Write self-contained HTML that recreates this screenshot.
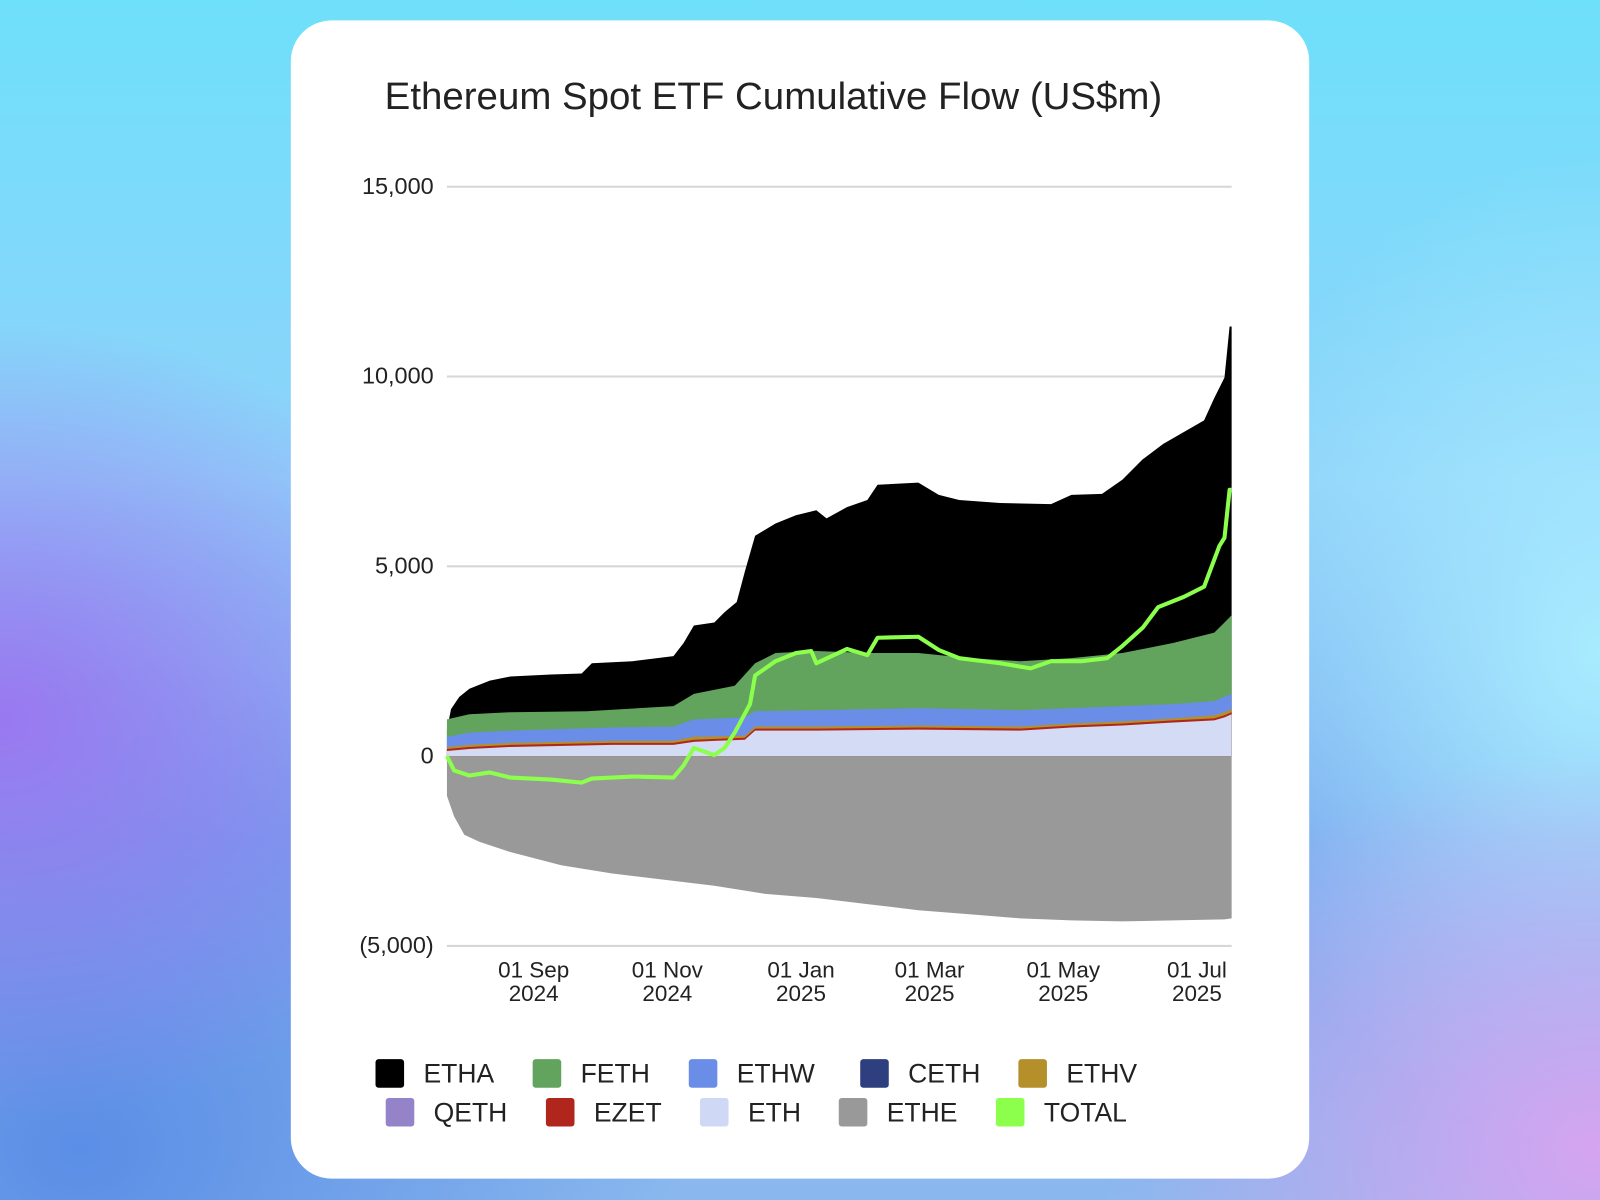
<!DOCTYPE html>
<html><head><meta charset="utf-8"><style>
html,body{margin:0;padding:0;width:1600px;height:1200px;overflow:hidden}
body{background:
radial-gradient(ellipse 500px 400px at 0px 720px,#9a78f0 0%,rgba(154,120,240,0) 100%),
radial-gradient(ellipse 600px 500px at 80px 1150px,#5b8ee6 0%,rgba(91,142,230,0) 100%),
radial-gradient(ellipse 500px 400px at 1600px 1150px,#d6a4f0 0%,rgba(214,164,240,0) 100%),
radial-gradient(ellipse 400px 500px at 1600px 650px,#a8ecff 0%,rgba(168,236,255,0) 100%),
linear-gradient(180deg,#6fe0fa 0%,#8fd2fa 40%,#7aa8ee 70%,#8ab8ee 100%);}
svg{position:absolute;left:0;top:0}
text{font-family:"Liberation Sans",sans-serif;fill:#222}
</style></head><body>
<svg width="1600" height="1200" viewBox="0 0 1568 1176" preserveAspectRatio="none">
<rect x="285" y="20" width="998" height="1135" rx="40" fill="#fff"/>
<text x="377" y="107" font-size="37" textLength="762" lengthAdjust="spacingAndGlyphs">Ethereum Spot ETF Cumulative Flow (US$m)</text>
<g stroke="#d6d6d6" stroke-width="2">
<line x1="438" x2="1207" y1="183" y2="183"/><line x1="438" x2="1207" y1="369" y2="369"/>
<line x1="438" x2="1207" y1="555" y2="555"/><line x1="438" x2="1207" y1="741" y2="741"/>
<line x1="438" x2="1207" y1="927" y2="927"/></g>
<g font-size="23" text-anchor="end">
<text x="425" y="190">15,000</text><text x="425" y="376">10,000</text><text x="425" y="562">5,000</text>
<text x="425" y="748">0</text><text x="425" y="934">(5,000)</text></g>
<path fill="#999" d="M438,741 L438,780 445,800 455,818 470,825 500,835 550,848 600,856 650,862 700,868 750,876 800,880 850,886 900,892 950,896 1000,900 1050,902 1100,903 1150,902 1200,901 1207,900 L1207,741Z"/>
<path fill="#000" d="M438,741 L438,715 442,695 450,683 460,675 480,667 500,663 540,661 570,660 580,650 620,648 660,643 670,630 680,613 700,610 710,600 722,590 730,560 740,525 760,513 780,505 800,500 810,508 830,497 850,490 860,475 900,473 920,485 940,490 980,493 1030,494 1050,485 1080,484 1100,470 1120,450 1140,435 1180,412 1190,390 1200,370 1205,320 1207,320 L1207,741Z"/>
<path fill="#62a35e" d="M438,741 L438,705 460,700 500,698 575,697 660,692 680,680 720,672 740,650 760,640 800,638 850,640 900,640 950,645 1000,648 1050,645 1100,640 1150,630 1190,620 1200,610 1207,603 L1207,741Z"/>
<path fill="#6a8de8" d="M438,741 L438,722 460,718 500,716 600,713 660,712 680,705 730,703 740,697 800,696 900,694 1000,696 1050,694 1100,692 1150,690 1190,687 1207,680 L1207,741Z"/>
<path fill="#b58f2a" d="M438,741 L438,732 460,730 500,728 600,726 660,726 680,722 730,721 740,712 800,712 900,711 1000,712 1050,709 1100,707 1150,704 1190,701 1200,698 1207,695 L1207,741Z"/>
<path fill="#b0261d" d="M438,741 L438,734 460,732 500,730 600,728 660,728 680,725 730,723 740,714 800,714 900,713 1000,714 1050,711 1100,709 1150,706 1190,704 1200,701 1207,698 L1207,741Z"/>
<path fill="#d3dbf5" d="M438,741 L438,736 460,734 500,732 600,730 660,730 680,727 700,726 730,725 740,716 800,716 900,715 1000,716 1050,713 1100,711 1150,708 1190,706 1200,703 1207,700 L1207,741Z"/>
<polyline fill="none" stroke="#8cff4c" stroke-width="4" stroke-linejoin="round" points="438,741 445,755 460,760 480,757 500,762 540,764 570,767 580,763 620,761 660,762 670,750 680,733 700,740 710,733 720,718 735,690 740,662 760,648 780,640 795,638 800,650 815,643 830,636 850,642 860,625 900,624 920,637 940,645 980,650 1010,655 1030,648 1060,648 1085,645 1100,633 1120,615 1135,595 1160,585 1180,575 1195,535 1200,527 1205,480 1207,480"/>
<g font-size="22" text-anchor="middle">
<text x="523" y="958">01 Sep</text><text x="523" y="981">2024</text>
<text x="654" y="958">01 Nov</text><text x="654" y="981">2024</text>
<text x="785" y="958">01 Jan</text><text x="785" y="981">2025</text>
<text x="911" y="958">01 Mar</text><text x="911" y="981">2025</text>
<text x="1042" y="958">01 May</text><text x="1042" y="981">2025</text>
<text x="1173" y="958">01 Jul</text><text x="1173" y="981">2025</text></g>
<g font-size="26">
<rect x="368" y="1038" width="28" height="28" rx="3" fill="#000"/><text x="415" y="1061">ETHA</text>
<rect x="522" y="1038" width="28" height="28" rx="3" fill="#62a35e"/><text x="569" y="1061">FETH</text>
<rect x="675" y="1038" width="28" height="28" rx="3" fill="#6a8de8"/><text x="722" y="1061">ETHW</text>
<rect x="843" y="1038" width="28" height="28" rx="3" fill="#2e3f80"/><text x="890" y="1061">CETH</text>
<rect x="998" y="1038" width="28" height="28" rx="3" fill="#b58f2a"/><text x="1045" y="1061">ETHV</text>
<rect x="378" y="1076" width="28" height="28" rx="3" fill="#9583c9"/><text x="425" y="1099">QETH</text>
<rect x="535" y="1076" width="28" height="28" rx="3" fill="#b0261d"/><text x="582" y="1099">EZET</text>
<rect x="686" y="1076" width="28" height="28" rx="3" fill="#cfd8f4"/><text x="733" y="1099">ETH</text>
<rect x="822" y="1076" width="28" height="28" rx="3" fill="#999"/><text x="869" y="1099">ETHE</text>
<rect x="976" y="1076" width="28" height="28" rx="3" fill="#8cff4c"/><text x="1023" y="1099">TOTAL</text>
</g>
</svg>
</body></html>
